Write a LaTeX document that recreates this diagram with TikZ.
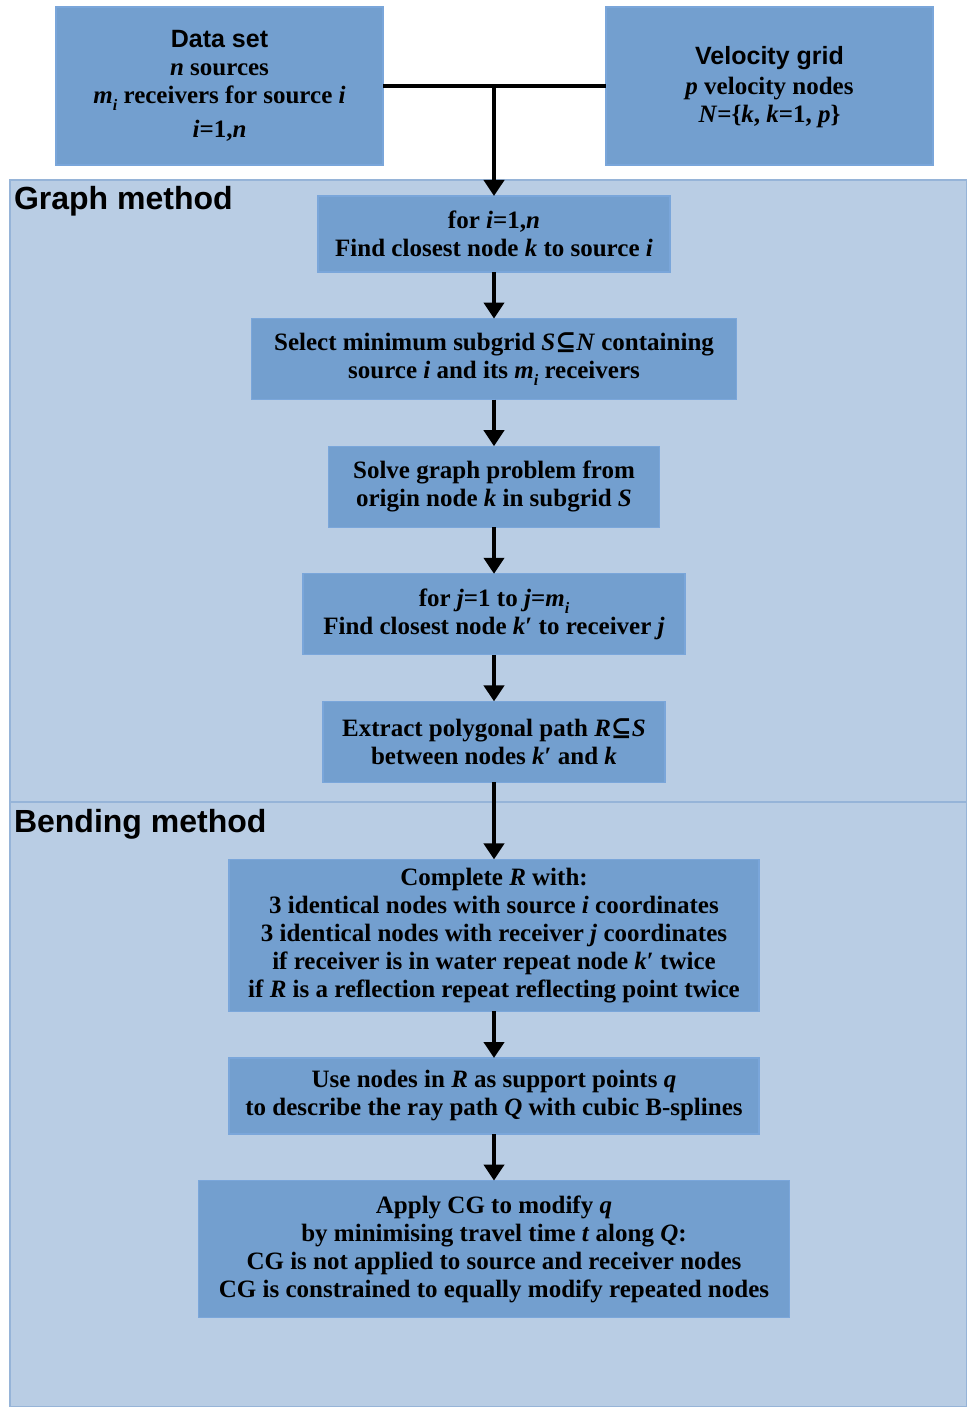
\documentclass[tikz,border=0pt]{standalone}
\usepackage{fontspec}
\setmainfont{Liberation Serif}
\newfontfamily\headfont{Liberation Sans}
\newfontfamily\symfont{DejaVu Serif}
\usepackage{tikz}
\usetikzlibrary{arrows.meta,positioning}
\definecolor{boxblue}{RGB}{115,159,207}
\definecolor{boxline}{RGB}{122,166,218}
\definecolor{panelblue}{RGB}{185,205,228}
\definecolor{panelline}{RGB}{150,180,216}
\newcommand{\lowsub}[1]{\raisebox{-3.5pt}{\fontsize{8}{8}\selectfont\textit{#1}}}
\newcommand{\inset}{{\symfont\char"2286}}

\begin{document}
\begin{tikzpicture}[x=0.5pt,y=-0.5pt,->,>={Triangle[length=8pt,width=10pt]},
                    line width=2pt,node distance=23.3pt]
  \tikzstyle{every node}=[font=\fontsize{12.5}{14}\selectfont\bfseries,align=center,inner sep=0pt,outer sep=0pt]
  \tikzstyle{stepbox}=[draw=boxline,fill=boxblue,line width=0.6pt,minimum height=40.5pt]
  \tikzstyle{panel}=[-,draw=panelline,fill=panelblue,line width=0.6pt]
  \tikzstyle{title}=[font=\headfont\fontsize{16}{18}\selectfont\bfseries,anchor=base west]
\useasboundingbox (0,0) rectangle (967,1407);
\draw [panel] (10,180) rectangle (967,802);
\draw [panel] (10,802) rectangle (967,1407);
\node [title] (graph) at (14,210) {Graph method};
\node [title] (bend) at (14,832) {Bending method};

\node [stepbox,minimum width=163.5pt,minimum height=79pt] (data) at (219.5,86)
  {{\headfont Data set}\\ \textit{n} sources\\ \textit{m}\lowsub{i} receivers for source \textit{i}\\[3pt] \textit{i}=1,\textit{n}};
\node [stepbox,minimum width=163.5pt,minimum height=79pt,text depth=2pt] (grid) at (769.5,86)
  {{\headfont Velocity grid}\\[1pt] \textit{p} velocity nodes\\ \textit{N}=\{\textit{k}, \textit{k}=1, \textit{p}\}};

\node [stepbox,minimum width=176pt,minimum height=38pt] (1) at (494,234)
  {for \textit{i}=1,\textit{n}\\ Find closest node \textit{k} to source \textit{i}};
\node [stepbox,minimum width=242.5pt] [below=of 1] (2)
  {Select minimum subgrid \textit{S}\inset\textit{N} containing\\ source \textit{i} and its \textit{m}\lowsub{i} receivers};
\node [stepbox,minimum width=165.5pt] [below=of 2] (3)
  {Solve graph problem from\\ origin node \textit{k} in subgrid \textit{S}};
\node [stepbox,minimum width=191pt] [below=of 3] (4)
  {for \textit{j}=1 to \textit{j}=\textit{m}\lowsub{i}\\ Find closest node \textit{k}′ to receiver \textit{j}};
\node [stepbox,minimum width=171pt] [below=of 4] (5)
  {Extract polygonal path \textit{R}\inset\textit{S}\\ between nodes \textit{k}′ and \textit{k}};
\node [stepbox,minimum width=265pt,minimum height=76pt] [below=38.5pt of 5] (6)
  {Complete \textit{R} with:\\ 3 identical nodes with source \textit{i} coordinates\\
   3 identical nodes with receiver \textit{j} coordinates\\
   if receiver is in water repeat node \textit{k}′ twice\\
   if \textit{R} is a reflection repeat reflecting point twice};
\node [stepbox,minimum width=265pt,minimum height=38pt] [below=of 6] (7)
  {Use nodes in \textit{R} as support points \textit{q}\\ to describe the ray path \textit{Q} with cubic B-splines};
\node [stepbox,minimum width=295.5pt,minimum height=68.5pt] [below=of 7] (8)
  {Apply CG to modify \textit{q}\\ by minimising travel time \textit{t} along \textit{Q}:\\
   CG is not applied to source and receiver nodes\\
   CG is constrained to equally modify repeated nodes};

\coordinate (join) at (494,86);
\draw [-] (data.east) -- (grid.west);
\path (join) edge (1)
      (1) edge (2)
      (2) edge (3)
      (3) edge (4)
      (4) edge (5)
      (5) edge (6)
      (6) edge (7)
      (7) edge (8);

	\end{tikzpicture}
\end{document}
